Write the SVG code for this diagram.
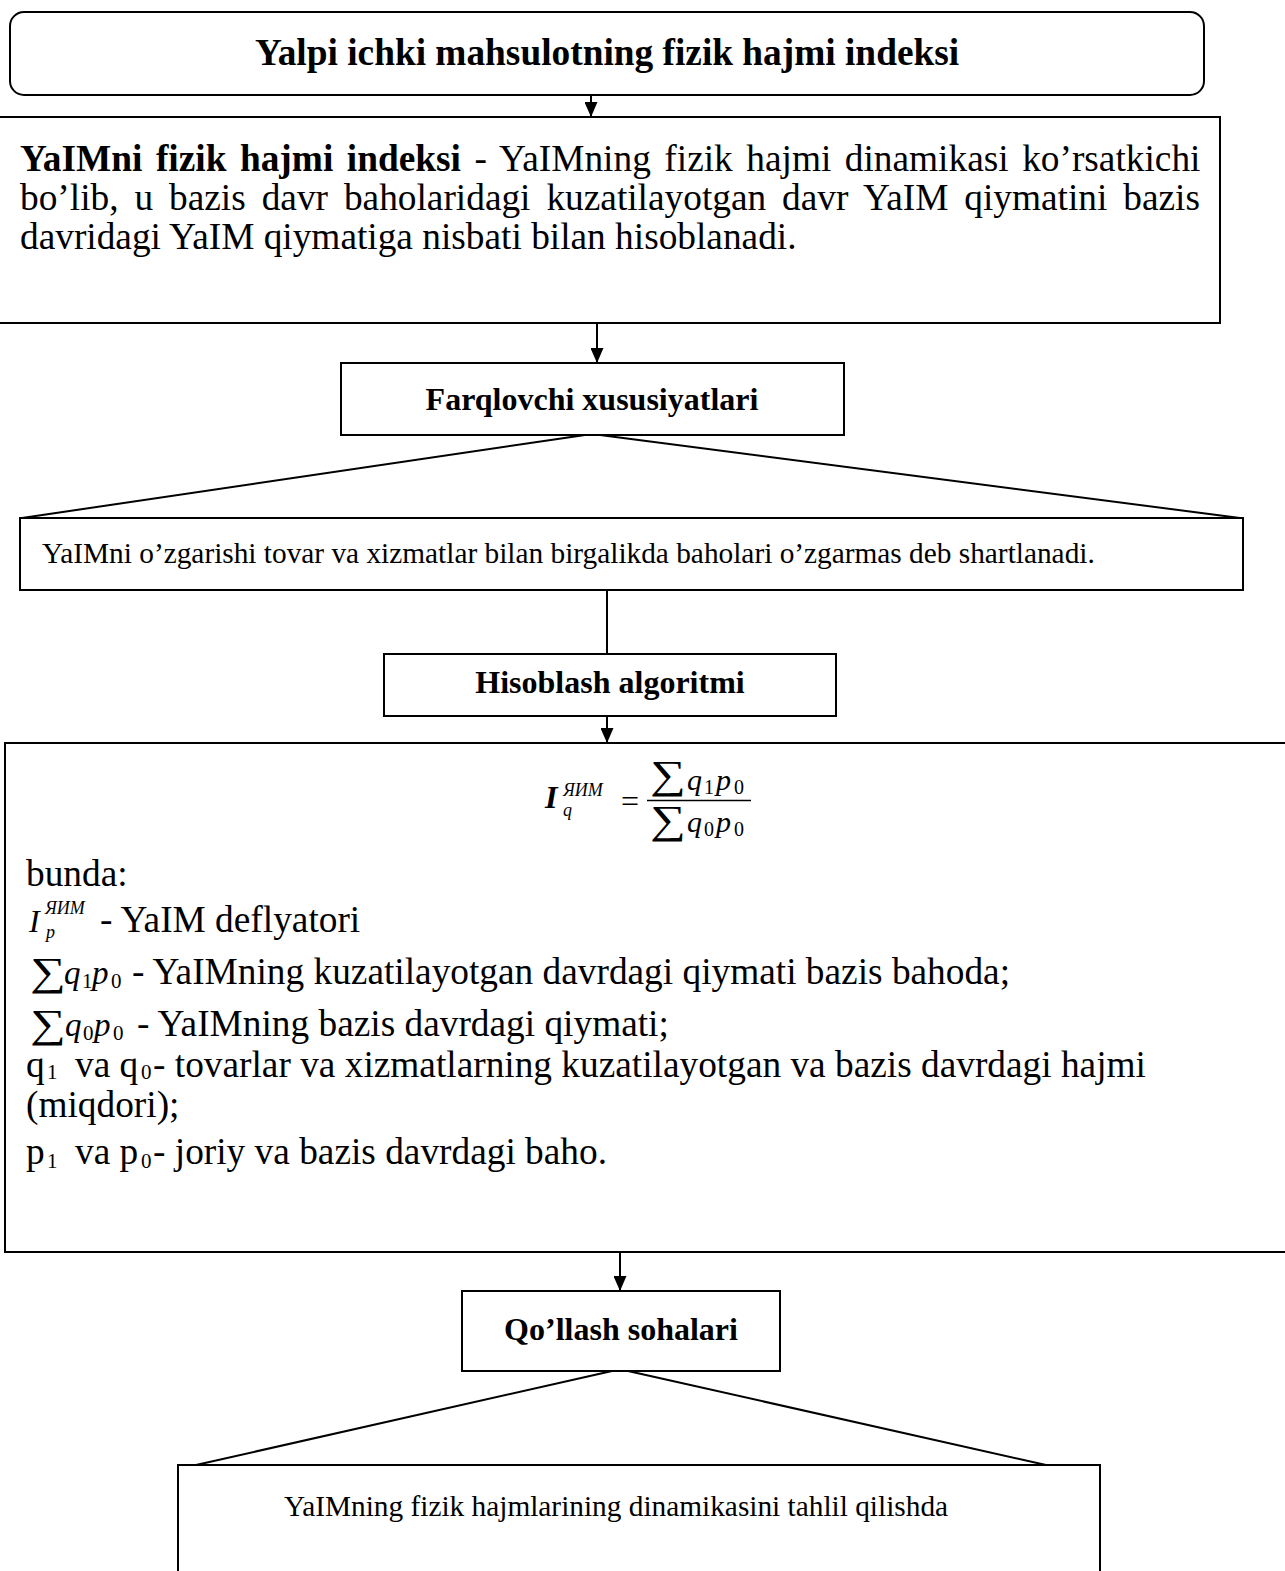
<svg xmlns="http://www.w3.org/2000/svg" width="1285" height="1571" viewBox="0 0 1285 1571">
<defs>
<marker id="arr" markerUnits="userSpaceOnUse" markerWidth="15" markerHeight="13" refX="15" refY="6.5" orient="auto">
<path d="M0,0 L15,6.5 L0,13 z" fill="#000"/>
</marker>
<style>
.box{fill:#fff;stroke:#000;stroke-width:2}
.ln{stroke:#000;stroke-width:2;fill:none}
.t{font-family:"Liberation Serif","Times New Roman",serif;fill:#000}
.b{font-weight:bold}
.body{font-size:37.33px}
.hd{font-size:32px;font-weight:bold}
.sm{font-size:29.33px}
.it{font-style:italic}
.sub{font-size:21px}
.sig{font-size:40px}
</style>
</defs>
<rect x="0" y="0" width="1285" height="1571" fill="#fff"/>

<g id="n-title">
<rect class="box" x="10" y="12" width="1194" height="83" rx="14" ry="14"/>
<text class="t b body" x="607" y="65" text-anchor="middle">Yalpi ichki mahsulotning fizik hajmi indeksi</text>
</g>

<g id="n-definition">
<rect class="box" x="-5" y="117" width="1225" height="206"/>
<text class="t body" x="20" y="171" word-spacing="4.2"><tspan class="b">YaIMni fizik hajmi indeksi</tspan> - YaIMning fizik hajmi dinamikasi ko’rsatkichi</text>
<text class="t body" x="20" y="210" word-spacing="6.6">bo’lib, u bazis davr baholaridagi kuzatilayotgan davr YaIM qiymatini bazis</text>
<text class="t body" x="20" y="249">davridagi YaIM qiymatiga nisbati bilan hisoblanadi.</text>
</g>

<g id="n-farq">
<rect class="box" x="341" y="363" width="503" height="72"/>
<text class="t hd" x="592" y="410" text-anchor="middle">Farqlovchi xususiyatlari</text>
</g>

<g id="n-feature">
<rect class="box" x="20" y="518" width="1223" height="72"/>
<text class="t sm" x="42" y="563">YaIMni o’zgarishi tovar va xizmatlar bilan birgalikda baholari o’zgarmas deb shartlanadi.</text>
</g>

<g id="n-hisob">
<rect class="box" x="384" y="654" width="452" height="62"/>
<text class="t hd" x="610" y="693" text-anchor="middle">Hisoblash algoritmi</text>
</g>

<g id="n-formula">
<rect class="box" x="5" y="743" width="1290" height="509"/>
<text class="t it b" x="545" y="808" font-size="32">I</text>
<text class="t it" x="563" y="796" font-size="18">ЯИМ</text>
<text class="t it" x="563" y="816" font-size="18">q</text>
<text class="t" x="621" y="812" font-size="32">=</text>
<line x1="647" y1="800.5" x2="751" y2="800.5" stroke="#000" stroke-width="1.5"/>
<text class="t sig" transform="translate(650,788) scale(1.25,1)">∑</text>
<text class="t it" x="687" y="790" font-size="30">q</text>
<text class="t" x="704" y="794" font-size="20">1</text>
<text class="t it" x="716" y="790" font-size="30">p</text>
<text class="t" x="734" y="794" font-size="20">0</text>
<text class="t sig" transform="translate(650,833) scale(1.25,1)">∑</text>
<text class="t it" x="687" y="832" font-size="30">q</text>
<text class="t" x="704" y="836" font-size="20">0</text>
<text class="t it" x="716" y="832" font-size="30">p</text>
<text class="t" x="734" y="836" font-size="20">0</text>

<text class="t body" x="26" y="886">bunda:</text>

<text class="t it" x="29" y="932" font-size="32">I</text>
<text class="t it" x="45" y="914" font-size="18">ЯИМ</text>
<text class="t it" x="46" y="938" font-size="18">p</text>
<text class="t body" x="100" y="932">- YaIM deflyatori</text>

<text class="t sig" transform="translate(30,985) scale(1.25,1)">∑</text>
<text class="t it" x="64" y="984" font-size="33">q</text>
<text class="t" x="82" y="988" font-size="21">1</text>
<text class="t it" x="92" y="984" font-size="33">p</text>
<text class="t" x="111" y="988" font-size="21">0</text>
<text class="t body" x="132" y="984">- YaIMning kuzatilayotgan davrdagi qiymati bazis bahoda;</text>

<text class="t sig" transform="translate(30,1037) scale(1.25,1)">∑</text>
<text class="t it" x="65" y="1036" font-size="33">q</text>
<text class="t" x="83" y="1040" font-size="21">0</text>
<text class="t it" x="94" y="1036" font-size="33">p</text>
<text class="t" x="113" y="1040" font-size="21">0</text>
<text class="t body" x="137" y="1036">- YaIMning bazis davrdagi qiymati;</text>

<text class="t body" x="26" y="1077">q</text>
<text class="t sub" x="47" y="1079">1</text>
<text class="t body" x="75" y="1077">va q</text>
<text class="t sub" x="141" y="1079">0</text>
<text class="t body" x="153" y="1077">- tovarlar va xizmatlarning kuzatilayotgan va bazis davrdagi hajmi</text>
<text class="t body" x="26" y="1117">(miqdori);</text>
<text class="t body" x="26" y="1164">p</text>
<text class="t sub" x="47" y="1168">1</text>
<text class="t body" x="75" y="1164">va p</text>
<text class="t sub" x="141" y="1168">0</text>
<text class="t body" x="153" y="1164">- joriy va bazis davrdagi baho.</text>
</g>

<g id="n-qollash">
<rect class="box" x="462" y="1291" width="318" height="80"/>
<text class="t hd" x="621" y="1340" text-anchor="middle">Qo’llash sohalari</text>
</g>

<g id="n-application">
<rect class="box" x="178" y="1465" width="922" height="130"/>
<text class="t sm" x="616" y="1516" text-anchor="middle">YaIMning fizik hajmlarining dinamikasini tahlil qilishda</text>
</g>

<g id="connectors">
<line class="ln" x1="591" y1="95" x2="591" y2="117" marker-end="url(#arr)"/>
<line class="ln" x1="597" y1="323" x2="597" y2="363" marker-end="url(#arr)"/>
<line class="ln" x1="585" y1="435" x2="22" y2="518"/>
<line class="ln" x1="600" y1="435" x2="1240" y2="518"/>
<line class="ln" x1="607" y1="590" x2="607" y2="654"/>
<line class="ln" x1="607" y1="716" x2="607" y2="743" marker-end="url(#arr)"/>
<line class="ln" x1="620" y1="1252" x2="620" y2="1291" marker-end="url(#arr)"/>
<line class="ln" x1="612" y1="1371" x2="196" y2="1465"/>
<line class="ln" x1="628" y1="1371" x2="1046" y2="1465"/>
</g>
</svg>
